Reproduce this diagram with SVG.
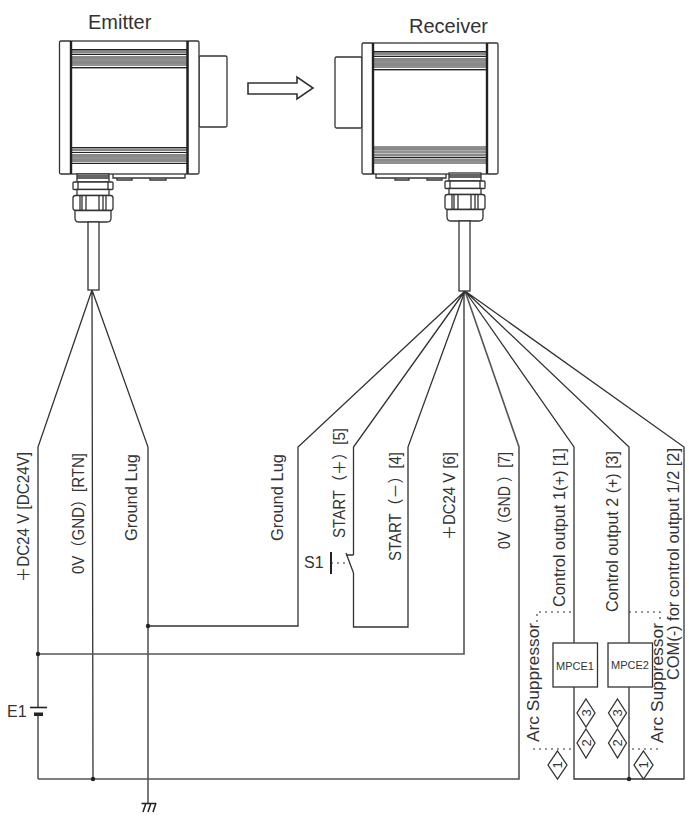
<svg xmlns="http://www.w3.org/2000/svg" width="689" height="818" viewBox="0 0 689 818">
<style>
.o{fill:#fff;stroke:#333;stroke-width:1.3}
.n{fill:none;stroke:#333;stroke-width:1.3}
.k{fill:none;stroke:#222;stroke-width:2.4}
.b{fill:#222;stroke:none}
.g{fill:#888;stroke:none}
.w{fill:none;stroke:#333;stroke-width:1.3}
.t{fill:none;stroke:#555;stroke-width:1.6}
.d{fill:none;stroke:#333;stroke-width:1.1;stroke-dasharray:2 4}
.l{font-family:"Liberation Sans","Noto Sans CJK JP",Arial,sans-serif;font-size:16px;fill:#333}
.h{font-family:"Liberation Sans",Arial,sans-serif;font-size:20px;fill:#333}
.s{font-family:"Liberation Sans",Arial,sans-serif;font-size:11px;fill:#333}
.c{font-family:"Liberation Sans",Arial,sans-serif;font-size:13px;fill:#333}
.dot{fill:#222}
</style>
<defs>
<g id="bands">
<rect class="b" x="0" y="0" width="116" height="1.6"/>
<rect class="g" x="0" y="1.600" width="116" height="3"/>
<rect class="b" x="0" y="5" width="116" height="1"/>
<rect class="g" x="0" y="7" width="116" height="3"/>
<rect class="b" x="0" y="10.500" width="116" height="1"/>
<rect class="g" x="0" y="12" width="116" height="3"/>
<rect class="b" x="0" y="15.500" width="116" height="1"/>
<rect class="b" x="0" y="18" width="116" height="1.400"/>
</g>
<g id="bands2">
<rect class="b" x="0" y="0" width="116" height="1"/>
<rect class="g" x="0" y="1.200" width="116" height="3"/>
<rect class="b" x="0" y="5" width="116" height="1"/>
<rect class="g" x="0" y="7" width="116" height="3"/>
<rect class="b" x="0" y="10.500" width="116" height="1"/>
<rect class="g" x="0" y="12" width="116" height="3.400"/>
<rect class="b" x="0" y="16" width="116" height="1"/>
</g>
<g id="gland">
<rect class="o" x="4" y="0" width="32" height="8"/>
<path class="n" d="M4 4H36M4 2H36"/>
<rect class="o" x="0" y="8" width="40" height="7.500" rx="1"/>
<path class="n" d="M5 8V15.500M35 8V15.500"/>
<rect class="o" x="4" y="15.500" width="32" height="6"/>
<rect class="o" x="0" y="21.500" width="40" height="15" rx="2.500"/>
<path class="n" d="M7 21.500V36.500M9 21.500V36.500M13 21.500V36.500M26 21.500V36.500M30 21.500V36.500M33 21.500V36.500"/>
<path class="o" d="M2 36.500H38V44Q38 48 34 48H6Q2 48 2 44Z"/>
</g>
</defs>
<g id="connectors">
<path class="w" d="M92 290L38 447V707.500M38 716V779M92 290L93 779M92 290L148 447V803"/>
<path class="t" d="M38 654H464V291M38 779H519V447L465 291"/>
<path class="w" d="M148 626H298V447L465 291M353.500 555V447L465 291M353.500 573V627H408V447L465 291"/>
<path class="w" d="M346 555H353.500M346 553L353.500 573"/>
<path class="w" d="M465 291L574 447V643M574 687V779H684V447L465 291M465 291L629 447V643M629 687V779"/>
<path class="d" d="M331 563H350"/>
<path class="d" d="M537 622V612H574M533 749H574M629 612H660V622M632 749H660"/>
</g>
<g id="emitter">
<text class="h" x="88" y="29">Emitter</text>
<rect class="o" x="199" y="56" width="28" height="71" rx="1.500"/>
<rect class="o" x="59.500" y="41" width="11.500" height="133" rx="1.500"/>
<rect class="o" x="187.500" y="41" width="11.500" height="133" rx="1.500"/>
<rect class="o" x="71" y="41" width="116.500" height="133"/>
<use href="#bands" x="71" y="49"/>
<use href="#bands2" x="71" y="147"/>
<path class="k" d="M71 41V174M187.500 41V174"/>
<path class="n" d="M113 174V178H185V174M117 178V180H132V178M150 178V180H166V178"/>
<use href="#gland" x="73" y="174"/>
<rect class="o" x="88" y="222" width="11" height="68"/>
</g>
<g id="receiver">
<text class="h" x="409" y="33">Receiver</text>
<rect class="o" x="335" y="57" width="27" height="71" rx="1.500"/>
<rect class="o" x="362" y="43" width="11" height="131" rx="1.500"/>
<rect class="o" x="487" y="43" width="11" height="131" rx="1.500"/>
<rect class="o" x="373" y="43" width="114" height="131"/>
<use href="#bands" x="372" y="51"/>
<use href="#bands2" x="372" y="146.500"/>
<path class="k" d="M373 43V174M487 43V174"/>
<path class="n" d="M376 174V178H446V174M395 178V180H409V178M427 178V180H442V178"/>
<use href="#gland" x="445" y="173"/>
<rect class="o" x="459" y="221" width="11" height="70"/>
</g>
<g id="flow-arrow">
<path class="o" style="stroke-width:1.600" d="M248 83H297V77L313 88L297 99V94H248Z"/>
</g>
<g id="ground">
<path class="n" style="stroke-width:1.500;stroke:#222" d="M141.500 803.500H156M146 803L143 812M151 803L148 812M156 803L153 812"/>
</g>
<g id="battery-E1">
<path d="M30 707.500H47" stroke="#222" stroke-width="1.600" fill="none"/>
<rect x="34" y="712.500" width="9" height="3.500" fill="#222"/>
<text class="l" x="7" y="717">E1</text>
</g>
<g id="switch-S1">
<path d="M331 552V574" stroke="#222" stroke-width="2" fill="none"/>
<text class="l" x="304" y="568">S1</text>
</g>
<g id="mpce1">
<rect class="o" x="553" y="643" width="44.500" height="44"/>
<text class="s" x="575" y="670" text-anchor="middle">MPCE1</text>
</g>
<g id="mpce2">
<rect class="o" x="608" y="643" width="44.500" height="44"/>
<text class="s" x="630" y="669" text-anchor="middle">MPCE2</text>
</g>
<g id="junctions">
<circle class="dot" cx="38" cy="654" r="2.200"/>
<circle class="dot" cx="93" cy="779" r="2.200"/>
<circle class="dot" cx="148" cy="626" r="2.200"/>
<circle class="dot" cx="629" cy="779" r="2.200"/>
</g>
<g id="badges">
<g id="b1a"><path class="n" d="M557.500 751L567 765L557.500 779L548 765Z"/><text class="c" transform="translate(562,765) rotate(-90)" text-anchor="middle">1</text></g>
<g id="b3a"><path class="o" d="M586 699L595 713L586 727L577 713Z"/><text class="c" transform="translate(590.500,713) rotate(-90)" text-anchor="middle">3</text></g>
<g id="b2a"><path class="o" d="M586 729L595 743L586 758L577 743Z"/><text class="c" transform="translate(590.500,743) rotate(-90)" text-anchor="middle">2</text></g>
<g id="b3b"><path class="o" d="M617.500 699L626.500 713L617.500 727L608.500 713Z"/><text class="c" transform="translate(622,713) rotate(-90)" text-anchor="middle">3</text></g>
<g id="b2b"><path class="o" d="M617.500 729L626.500 743L617.500 758L608.500 743Z"/><text class="c" transform="translate(622,743) rotate(-90)" text-anchor="middle">2</text></g>
<g id="b1b"><path class="n" d="M643.500 751L653 765L643.500 779L634 765Z"/><text class="c" transform="translate(648,765) rotate(-90)" text-anchor="middle">1</text></g>
</g>
<g id="labels">
<text class="l" transform="translate(29,582) rotate(-90)" textLength="130" lengthAdjust="spacingAndGlyphs">＋DC24 V [DC24V]</text>
<text class="l" transform="translate(84,574) rotate(-90)" textLength="121" lengthAdjust="spacingAndGlyphs">0V（GND）[RTN]</text>
<text class="l" transform="translate(137,541) rotate(-90)" textLength="87" lengthAdjust="spacingAndGlyphs">Ground Lug</text>
<text class="l" transform="translate(283,541) rotate(-90)" textLength="87" lengthAdjust="spacingAndGlyphs">Ground Lug</text>
<text class="l" transform="translate(344.500,538) rotate(-90)" textLength="110" lengthAdjust="spacingAndGlyphs">START（＋）[5]</text>
<text class="l" transform="translate(400.500,561) rotate(-90)" textLength="109" lengthAdjust="spacingAndGlyphs">START（－）[4]</text>
<text class="l" transform="translate(455,540) rotate(-90)" textLength="88" lengthAdjust="spacingAndGlyphs">＋DC24 V [6]</text>
<text class="l" transform="translate(510,549) rotate(-90)" textLength="97" lengthAdjust="spacingAndGlyphs">0V（GND ）[7]</text>
<text class="l" transform="translate(565,607) rotate(-90)" textLength="159" lengthAdjust="spacingAndGlyphs">Control output 1(+) [1]</text>
<text class="l" transform="translate(618,612) rotate(-90)" textLength="161" lengthAdjust="spacingAndGlyphs">Control output 2 (+) [3]</text>
<text class="l" transform="translate(678.500,680) rotate(-90)" textLength="232" lengthAdjust="spacingAndGlyphs">COM(-) for control output 1/2 [2]</text>
<text class="l" transform="translate(539,742) rotate(-90)" textLength="119" lengthAdjust="spacingAndGlyphs">Arc Suppressor</text>
<text class="l" transform="translate(663,743) rotate(-90)" textLength="120" lengthAdjust="spacingAndGlyphs">Arc Suppressor</text>
</g>
</svg>
